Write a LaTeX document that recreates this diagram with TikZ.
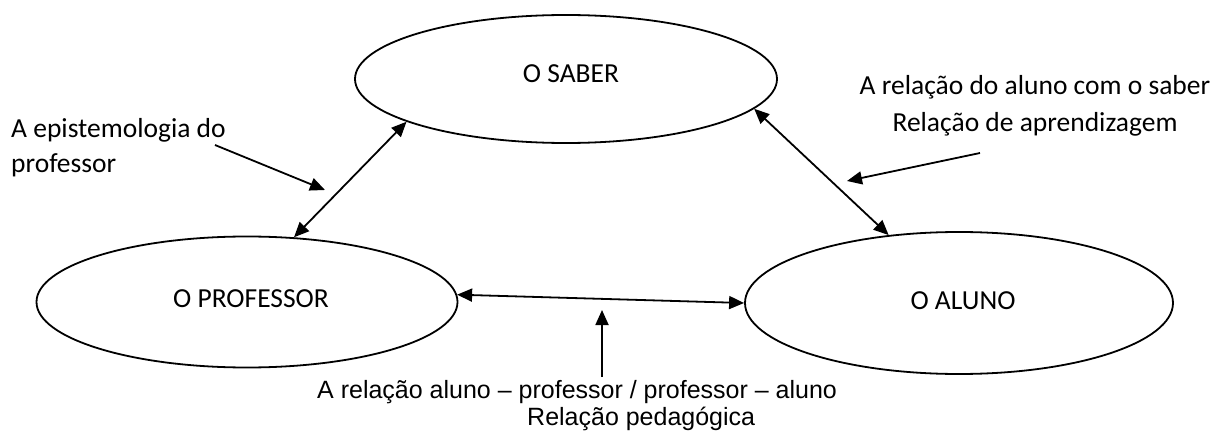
\documentclass[tikz,border=0pt]{standalone}
\usepackage{fontspec}
\setmainfont{Carlito}
\newfontfamily\arialf{Liberation Sans}
\usetikzlibrary{shapes.geometric,arrows.meta}
\begin{document}
\begin{tikzpicture}[x=1pt,y=-1pt,
  ell/.style={draw, ellipse, line width=1.8pt, inner sep=0pt, font=\fontsize{27.5}{32}\selectfont},
  conn/.style={line width=1.8pt, {Triangle[length=15pt,width=13pt]}-{Triangle[length=15pt,width=13pt]}},
  pointer/.style={line width=1.8pt, -{Triangle[length=15pt,width=13pt]}},
  lbl/.style={inner sep=0pt, font=\fontsize{27.5}{35}\selectfont},
  lblr/.style={inner sep=0pt, font=\fontsize{27.5}{37}\selectfont},
  lblb/.style={inner sep=0pt, font=\arialf\fontsize{25}{27}\selectfont}]
\useasboundingbox (0,0) rectangle (1216,441);
\fill[white] (0,0) rectangle (1216,441);
\node[ell, minimum width=422pt, minimum height=128pt] (saber) at (566,79) {\raisebox{11pt}{O SABER}\hspace*{-10pt}};
\node[ell, minimum width=421pt, minimum height=131pt] (prof) at (247,302) {\hspace*{8pt}\raisebox{6pt}{O PROFESSOR}};
\node[ell, minimum width=428pt, minimum height=142pt] (aluno) at (959,303) {\raisebox{4pt}{O ALUNO}\hspace*{-8pt}};
\draw[conn] (saber.195) -- (prof.54);
\draw[conn] (saber.351) -- (aluno.136);
\draw[conn] (prof.2) -- (aluno.180);
\node[lbl, anchor=north west, align=left] (epi) at (11,118) {A epistemologia do\\professor};
\node[lblr, anchor=north, align=center] (rel) at (1035,75) {A relação do aluno com o saber\\Relação de aprendizagem};
\node[lblb, anchor=north west, align=left] (ped) at (317,380) {A relação aluno – professor / professor – aluno\\\hspace*{210pt}Relação pedagógica};
\coordinate (e1) at (215,145);
\coordinate (e2) at (325,190);
\coordinate (r1) at (980,153);
\coordinate (r2) at (847,181);
\coordinate (b1) at (602,377);
\coordinate (b2) at (602,310);
\draw[pointer] (e1) -- (e2);
\draw[pointer] (r1) -- (r2);
\draw[pointer] (b1) -- (b2);
\end{tikzpicture}
\end{document}
